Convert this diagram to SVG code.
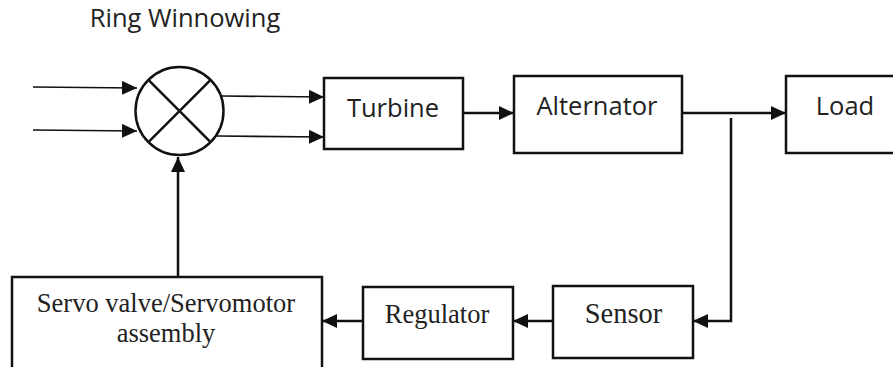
<svg xmlns="http://www.w3.org/2000/svg" width="893" height="367" viewBox="0 0 893 367">
<style>
.box{fill:#fff;stroke:#111;stroke-width:2.5}
.ln{fill:none;stroke:#111;stroke-width:2.5}
.thin{fill:none;stroke:#111;stroke-width:1.6}
.sans{font-family:"Open Sans","Noto Sans",sans-serif;font-size:25.5px;fill:#222;text-anchor:middle}
.serif{font-family:"Liberation Serif","Times New Roman",serif;font-size:26.5px;fill:#222;text-anchor:middle}
</style>
<defs>
<marker id="ah" markerUnits="userSpaceOnUse" markerWidth="16" markerHeight="14" refX="15" refY="7" orient="auto">
<path d="M0,0 L15,7 L0,14 Z" fill="#111"/>
</marker>
</defs>
<rect width="893" height="367" fill="#fff"/>
<text class="sans" x="185" y="27">Ring Winnowing</text>
<g id="connectors">
<line class="thin" x1="33" y1="87" x2="137" y2="88" marker-end="url(#ah)"/>
<line class="thin" x1="33" y1="130" x2="137" y2="131" marker-end="url(#ah)"/>
<line class="thin" x1="222" y1="96" x2="324" y2="97" marker-end="url(#ah)"/>
<line class="thin" x1="217" y1="136" x2="324" y2="137" marker-end="url(#ah)"/>
<line class="ln" x1="463" y1="113" x2="514" y2="113" marker-end="url(#ah)"/>
<line class="ln" x1="682" y1="113" x2="786" y2="113" marker-end="url(#ah)"/>
<polyline class="ln" points="731,118 731,321 693,321" marker-end="url(#ah)"/>
<line class="ln" x1="553" y1="321" x2="513" y2="321" marker-end="url(#ah)"/>
<line class="ln" x1="363" y1="321" x2="322" y2="321" marker-end="url(#ah)"/>
<line class="ln" x1="178" y1="277" x2="178" y2="157" marker-end="url(#ah)"/>
</g>
<g id="summer">
<circle cx="179.5" cy="111" r="44" class="ln" fill="#fff"/>
<line class="ln" x1="148.4" y1="79.9" x2="210.6" y2="142.1"/>
<line class="ln" x1="210.6" y1="79.9" x2="148.4" y2="142.1"/>
</g>
<g id="turbine">
<rect class="box" x="324" y="78" width="139" height="71"/>
<text class="sans" x="393" y="117">Turbine</text>
</g>
<g id="alternator">
<rect class="box" x="514" y="76" width="168" height="77"/>
<text class="sans" x="597" y="115">Alternator</text>
</g>
<g id="load">
<rect class="box" x="786" y="76" width="120" height="77"/>
<text class="sans" x="845" y="115">Load</text>
</g>
<g id="sensor">
<rect class="box" x="553" y="286" width="140" height="72"/>
<text class="serif" x="623.5" y="323" style="font-size:28.5px">Sensor</text>
</g>
<g id="regulator">
<rect class="box" x="363" y="287" width="150" height="72"/>
<text class="serif" x="437" y="323">Regulator</text>
</g>
<g id="servo">
<rect class="box" x="12" y="277" width="310" height="100"/>
<text class="serif" x="166" y="312">Servo valve/Servomotor</text>
<text class="serif" x="166" y="342">assembly</text>
</g>
</svg>
